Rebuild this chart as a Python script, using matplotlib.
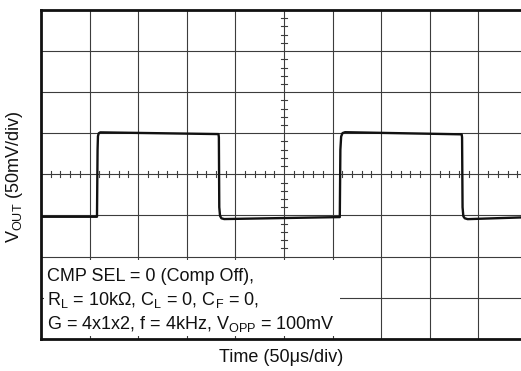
import matplotlib
matplotlib.use("Agg")
import matplotlib.pyplot as plt
from matplotlib.patches import Rectangle
import numpy as np

plt.rcParams['font.family'] = ['Liberation Sans', 'DejaVu Sans']
plt.rcParams['mathtext.fontset'] = 'custom'
plt.rcParams['mathtext.rm'] = 'Liberation Sans'
plt.rcParams['mathtext.it'] = 'Liberation Sans:italic'
plt.rcParams['mathtext.bf'] = 'Liberation Sans:bold'

# ---- data (time in us, voltage in mV) ----
time_us = [0, 57.6, 58.2, 58.6, 59.4, 61.0, 182.6, 183.0, 183.4, 184.2, 185.6, 188.5,
           307.4, 308.0, 308.8, 310.2, 312.8, 432.8, 433.2, 433.7, 434.5, 436.0, 439.0, 500]
vout_mV = [-51.6, -51.6, 30.0, 46.5, 50.0, 51.1, 49.0, 45.0, -40.0, -50.5, -53.5, -54.4,
           -52.0, 30.0, 46.0, 50.2, 51.3, 48.7, 45.0, -40.0, -51.0, -53.5, -54.5, -52.2]

x_div_us = 50      # 50 us/div
y_div_mV = 50      # 50 mV/div
n_xdiv = 10
n_ydiv = 8

ylabel = r"$\mathregular{V_{OUT}}$ (50mV/div)"
xlabel = "Time (50\u03bcs/div)"
note_lines = ["CMP SEL = 0 (Comp Off),",
              r"$\mathregular{R_L}$ = 10k" + "\u03a9" + r", $\mathregular{C_L}$ = 0, $\mathregular{C_F}$ = 0,",
              r"G = 4x1x2, f = 4kHz, $\mathregular{V_{OPP}}$ = 100mV"]

W, H = 521, 371
fig = plt.figure(figsize=(W / 100, H / 100), dpi=100)

def fx(px):
    return px / W

def fy(py):
    return 1 - py / H

left_px, right_px, top_px, bot_px = 41, 527, 10, 338.7
ax = fig.add_axes([fx(left_px), fy(bot_px), (right_px - left_px) / W, (bot_px - top_px) / H])

xmax = n_xdiv * x_div_us
ymax = n_ydiv / 2 * y_div_mV
ax.set_xlim(0, xmax)
ax.set_ylim(-ymax, ymax)

gcol = '#3c3c3c'
# grid lines
for k in range(1, n_xdiv):
    ax.axvline(k * x_div_us, color=gcol, lw=0.8, zorder=1)
for k in range(1, n_ydiv):
    ax.axhline(-ymax + k * y_div_mV, color=gcol, lw=0.8, zorder=1)

# minor ticks on center lines
xc = xmax / 2
tick_h = 3.0 / ((bot_px - top_px) / n_ydiv) * y_div_mV
tick_w = 3.0 / ((right_px - left_px) / n_xdiv) * x_div_us
for i in range(1, n_xdiv * 5):
    if i % 5:
        x = i * x_div_us / 5
        ax.plot([x, x], [-tick_h, tick_h], color=gcol, lw=0.8, zorder=1)
for i in range(1, n_ydiv * 5):
    if i % 5:
        y = -ymax + i * y_div_mV / 5
        ax.plot([xc - tick_w, xc + tick_w], [y, y], color=gcol, lw=0.8, zorder=1)

# white note box covering the grid
bx0 = 3.0 / ((right_px - left_px) / n_xdiv) * x_div_us
by0 = -ymax + 3.0 / ((bot_px - top_px) / n_ydiv) * y_div_mV
bx1 = (340 - left_px) / ((right_px - left_px) / n_xdiv) * x_div_us
by1 = (174.3 - 259.5) / ((bot_px - top_px) / n_ydiv) * y_div_mV
ax.add_patch(Rectangle((bx0, by0), bx1 - bx0, by1 - by0, facecolor='white',
                       edgecolor='none', zorder=2))

# waveform
ax.plot(time_us, vout_mV, color='#111111', lw=1.7, zorder=3,
        solid_joinstyle='round', solid_capstyle='butt')

ax.set_xticks([])
ax.set_yticks([])
for s in ['left', 'top', 'bottom']:
    ax.spines[s].set_linewidth(2.0)
    ax.spines[s].set_color('#111111')
ax.spines['right'].set_visible(False)

# texts
fs = 13
for i, line in enumerate(note_lines):
    fig.text(fx(47.3), fy(280.7 + 24 * i), line, fontsize=fs, ha='left',
             va='baseline', color='#111111')

fig.text(fx(281), fy(357), xlabel, fontsize=fs, ha='center', va='center',
         color='#111111')
fig.text(fx(15), fy(177), ylabel, fontsize=fs, ha='center', va='center',
         rotation=90, color='#111111')

fig.savefig('out.png', dpi=100)
